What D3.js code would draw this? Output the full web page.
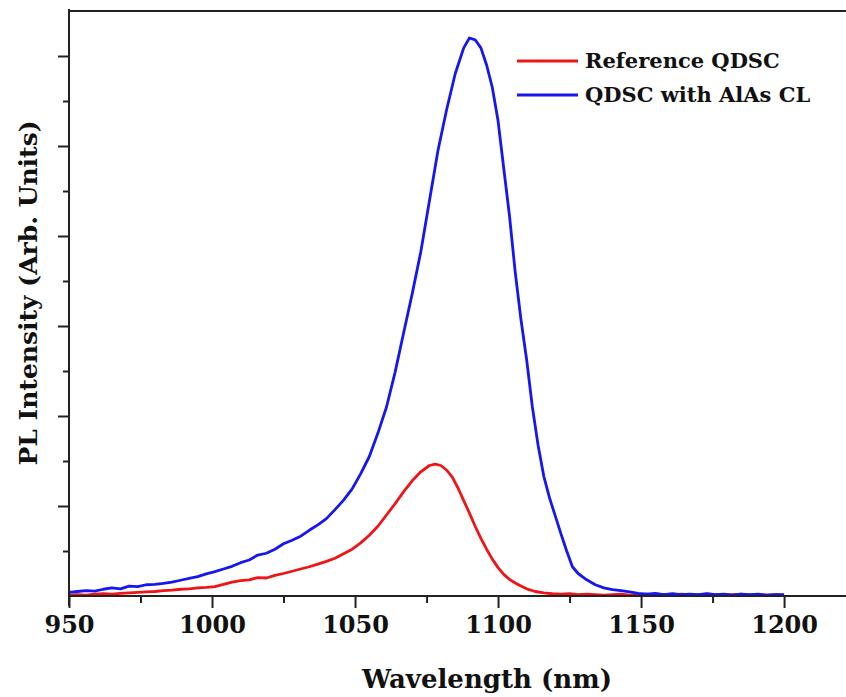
<!DOCTYPE html>
<html>
<head>
<meta charset="utf-8">
<script src="https://cdn.jsdelivr.net/npm/d3@7/dist/d3.min.js"></script>
<style>
  html, body { margin: 0; padding: 0; background: #fff; }
  svg { display: block; }
  text { font-family: "DejaVu Serif", "Liberation Serif", serif; font-weight: bold; fill: #111; }
</style>
</head>
<body>
<svg id="chart" width="846" height="697"></svg>
<script>
// Photoluminescence spectra (wavelength in nm, intensity in arbitrary units)
const wavelengthRef = [950,953,956,959,962,965,968,971,974,977,980,983,986,989,992,995,998,1001,1004,1007,1010,1013,1016,1019,1022,1025,1028,1031,1034,1037,1040,1043,1046,1049,1052,1055,1058,1061,1064,1067,1070,1073,1076,1078,1080,1082,1084,1086,1088,1090,1092,1094,1096,1098,1100,1102,1104,1106,1108,1110,1113,1116,1119,1122,1125,1128,1131,1134,1137,1140,1143,1146,1149,1152,1155,1158,1161,1164,1167,1170,1173,1176,1179,1182,1185,1188,1191,1194,1197,1200];
const intensityRef = [0.002,0.003,0.002,0.004,0.005,0.004,0.006,0.007,0.008,0.009,0.010,0.012,0.013,0.015,0.016,0.018,0.019,0.021,0.026,0.031,0.034,0.036,0.041,0.040,0.046,0.050,0.055,0.060,0.065,0.071,0.077,0.084,0.094,0.104,0.118,0.135,0.155,0.180,0.205,0.232,0.256,0.276,0.290,0.293,0.290,0.280,0.264,0.240,0.212,0.184,0.155,0.128,0.104,0.082,0.063,0.048,0.037,0.029,0.022,0.016,0.010,0.007,0.005,0.004,0.005,0.003,0.004,0.003,0.002,0.003,0.004,0.002,0.003,0.004,0.002,0.003,0.002,0.004,0.003,0.002,0.004,0.003,0.002,0.003,0.004,0.002,0.003,0.002,0.003,0.002];

const wavelengthCL = [950,953,956,959,962,965,968,971,974,977,980,983,986,989,992,995,998,1001,1004,1007,1010,1013,1016,1019,1022,1025,1028,1031,1034,1037,1040,1043,1046,1049,1052,1055,1058,1061,1064,1067,1070,1073,1076,1079,1082,1085,1088,1090,1092,1094,1096,1098,1100,1102,1104,1106,1108,1110,1112,1114,1116,1118,1120,1122,1124,1126,1128,1131,1134,1137,1140,1143,1146,1149,1152,1155,1158,1161,1164,1167,1170,1173,1176,1179,1182,1185,1188,1191,1194,1197,1200];
const intensityCL = [0.008,0.010,0.012,0.011,0.015,0.018,0.016,0.022,0.021,0.025,0.026,0.028,0.031,0.035,0.039,0.043,0.049,0.054,0.060,0.066,0.074,0.080,0.091,0.095,0.104,0.116,0.124,0.133,0.146,0.158,0.172,0.192,0.213,0.238,0.272,0.310,0.362,0.420,0.497,0.585,0.672,0.765,0.878,0.990,1.080,1.160,1.218,1.240,1.236,1.218,1.180,1.130,1.056,0.950,0.845,0.720,0.615,0.525,0.420,0.335,0.266,0.218,0.178,0.138,0.100,0.065,0.050,0.036,0.025,0.018,0.014,0.012,0.009,0.006,0.004,0.006,0.003,0.005,0.003,0.004,0.003,0.005,0.003,0.004,0.002,0.004,0.003,0.004,0.002,0.003,0.003];

const seriesNames = ["Reference QDSC", "QDSC with AlAs CL"];
const seriesColors = ["#ee1418", "#1616ee"];
const xTickValues = [950, 1000, 1050, 1100, 1150, 1200];
const xMinorTicks = [975, 1025, 1075, 1125, 1175, 1225];
const yMajorTicks = [0.2, 0.4, 0.6, 0.8, 1.0, 1.2];
const yMinorTicks = [0.1, 0.3, 0.5, 0.7, 0.9, 1.1];

const svg = d3.select("#chart");
const plotLeft = 69, plotRight = 847, plotTop = 11, plotBottom = 596;

const x = d3.scaleLinear().domain([950, 1222]).range([plotLeft, plotRight]);
const y = d3.scaleLinear().domain([0, 1.3]).range([plotBottom, plotTop]);

// Frame: top border line
svg.append("line")
  .attr("x1", plotLeft).attr("x2", 846)
  .attr("y1", plotTop).attr("y2", plotTop)
  .attr("stroke", "#222").attr("stroke-width", 2);

// Curves
const line = d3.line().x(d => x(d[0])).y(d => y(d[1])).curve(d3.curveLinear);
const series = [
  d3.zip(wavelengthRef, intensityRef),
  d3.zip(wavelengthCL, intensityCL)
];
series.forEach((pts, i) => {
  svg.append("path")
    .datum(pts)
    .attr("fill", "none")
    .attr("stroke", seriesColors[i])
    .attr("stroke-width", 2.8)
    .attr("stroke-linejoin", "round")
    .attr("d", line);
});

// X axis
const xAxis = svg.append("g").attr("transform", `translate(0,${plotBottom})`)
  .call(d3.axisBottom(x).tickValues(xTickValues).tickFormat(d3.format("d")).tickSize(12).tickPadding(8));
xAxis.select(".domain").attr("stroke", "#222").attr("stroke-width", 2).attr("d", `M${plotLeft},0H846`);
xAxis.selectAll(".tick line").attr("stroke", "#222").attr("stroke-width", 2);
xAxis.selectAll(".tick text").attr("font-size", 24).attr("font-family", "DejaVu Serif").attr("font-weight", "bold").attr("fill", "#111");
svg.append("g").attr("transform", `translate(0,${plotBottom})`)
  .call(d3.axisBottom(x).tickValues(xMinorTicks.filter(v => x(v) < 846)).tickFormat("").tickSize(7))
  .call(g => g.select(".domain").remove())
  .call(g => g.selectAll(".tick line").attr("stroke", "#222").attr("stroke-width", 2));

// Y axis (no labels)
const yAxis = svg.append("g").attr("transform", `translate(${plotLeft},0)`)
  .call(d3.axisLeft(y).tickValues(yMajorTicks).tickFormat("").tickSizeOuter(0).tickSize(11));
yAxis.select(".domain").attr("stroke", "#222").attr("stroke-width", 2).attr("d", `M0,${plotBottom + 10}V${plotTop - 2}`);
yAxis.selectAll(".tick line").attr("stroke", "#222").attr("stroke-width", 2);
svg.append("g").attr("transform", `translate(${plotLeft},0)`)
  .call(d3.axisLeft(y).tickValues(yMinorTicks).tickFormat("").tickSize(6))
  .call(g => g.select(".domain").remove())
  .call(g => g.selectAll(".tick line").attr("stroke", "#222").attr("stroke-width", 2));

// Axis titles
svg.append("text")
  .attr("x", 487).attr("y", 688)
  .attr("text-anchor", "middle")
  .attr("font-size", 26)
  .text("Wavelength (nm)");
svg.append("text")
  .attr("transform", `translate(37,${293}) rotate(-90)`)
  .attr("text-anchor", "middle")
  .attr("font-size", 25)
  .text("PL Intensity (Arb. Units)");

// Legend
const legend = svg.append("g");
seriesNames.forEach((name, i) => {
  const ly = 61 + i * 34;
  legend.append("line")
    .attr("x1", 517).attr("x2", 578).attr("y1", ly).attr("y2", ly)
    .attr("stroke", seriesColors[i]).attr("stroke-width", 3);
  legend.append("text")
    .attr("x", 585).attr("y", ly + 7)
    .attr("font-size", 21)
    .text(name);
});
</script>
</body>
</html>
